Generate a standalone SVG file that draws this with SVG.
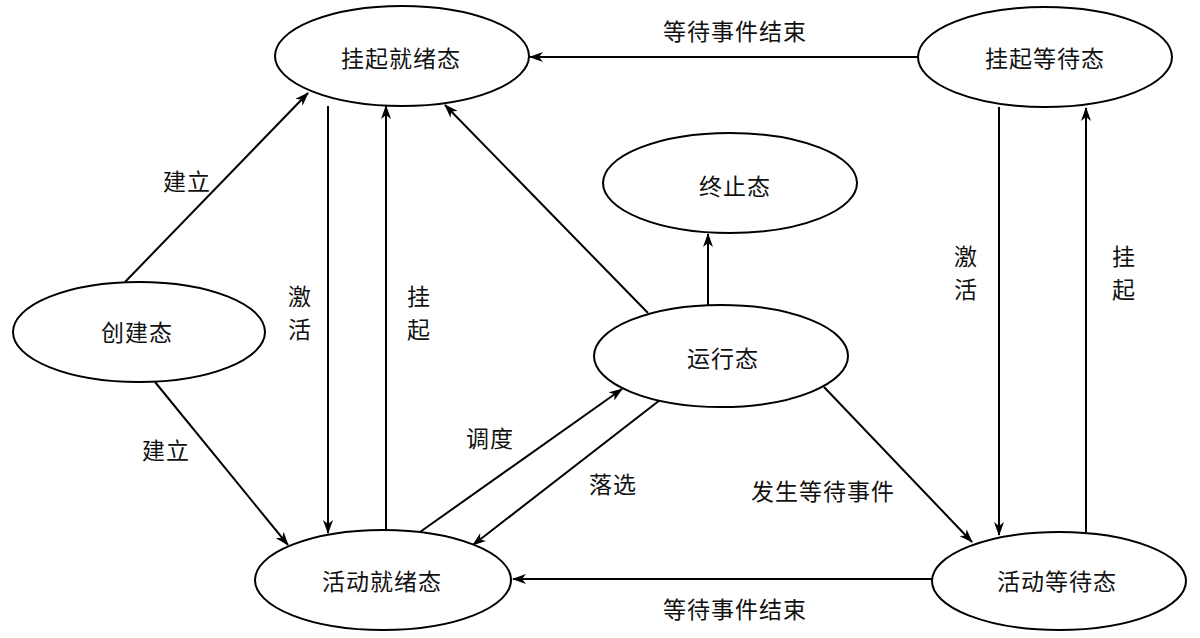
<svg xmlns="http://www.w3.org/2000/svg" width="1200" height="638" viewBox="0 0 1200 638">
<style>
.n{fill:#fff;stroke:#000;stroke-width:2}
.t{font-family:"Noto Sans CJK SC","Noto Sans",sans-serif;font-size:23px;letter-spacing:1px;fill:#111;text-anchor:middle;dominant-baseline:central}
.e{stroke:#000;stroke-width:2;fill:none;marker-end:url(#ah)}
</style>
<defs>
<marker id="ah" viewBox="0 0 14 10" refX="13" refY="5" markerWidth="14" markerHeight="10" markerUnits="userSpaceOnUse" orient="auto">
<path d="M0,0 L14,5 L0,10 L4,5 z" fill="#000"/>
</marker>
</defs>
<rect width="1200" height="638" fill="#fff"/>
<g id="connectors">
<line class="e" x1="918" y1="57" x2="530" y2="57"/>
<line class="e" x1="933" y1="579" x2="513" y2="579"/>
<line class="e" x1="125" y1="282" x2="308" y2="93"/>
<line class="e" x1="155" y1="382" x2="288" y2="545"/>
<line class="e" x1="328" y1="106" x2="328" y2="533"/>
<line class="e" x1="386" y1="530" x2="386" y2="106"/>
<line class="e" x1="648" y1="313" x2="445" y2="105"/>
<line class="e" x1="708" y1="305" x2="708" y2="234"/>
<line class="e" x1="420" y1="532" x2="622" y2="389"/>
<line class="e" x1="660" y1="400" x2="473" y2="545"/>
<line class="e" x1="824" y1="387" x2="972" y2="542"/>
<line class="e" x1="999" y1="107" x2="999" y2="535"/>
<line class="e" x1="1086" y1="532" x2="1086" y2="108"/>
<text class="t" x="735" y="30">等待事件结束</text>
<text class="t" x="735" y="608">等待事件结束</text>
<text class="t" x="187" y="180">建立</text>
<text class="t" x="166" y="449">建立</text>
<text class="t" x="300" y="295">激</text>
<text class="t" x="300" y="328">活</text>
<text class="t" x="419" y="295">挂</text>
<text class="t" x="419" y="328">起</text>
<text class="t" x="490" y="437">调度</text>
<text class="t" x="613" y="483">落选</text>
<text class="t" x="823" y="490">发生等待事件</text>
<text class="t" x="966" y="255">激</text>
<text class="t" x="966" y="288">活</text>
<text class="t" x="1124" y="255">挂</text>
<text class="t" x="1124" y="288">起</text>
</g>
<g id="n-guaqi-jiuxu"><ellipse class="n" cx="402" cy="56" rx="127" ry="50"/><text class="t" x="401" y="57">挂起就绪态</text></g>
<g id="n-guaqi-dengdai"><ellipse class="n" cx="1045" cy="57" rx="127" ry="50"/><text class="t" x="1045" y="57">挂起等待态</text></g>
<g id="n-zhongzhi"><ellipse class="n" cx="730" cy="183" rx="127" ry="50"/><text class="t" x="735" y="185">终止态</text></g>
<g id="n-chuangjian"><ellipse class="n" cx="139" cy="332" rx="126" ry="50"/><text class="t" x="137" y="331">创建态</text></g>
<g id="n-yunxing"><ellipse class="n" cx="721" cy="356" rx="127" ry="51"/><text class="t" x="723" y="357">运行态</text></g>
<g id="n-huodong-jiuxu"><ellipse class="n" cx="383" cy="580" rx="128" ry="50"/><text class="t" x="382" y="580">活动就绪态</text></g>
<g id="n-huodong-dengdai"><ellipse class="n" cx="1059" cy="581" rx="127" ry="49"/><text class="t" x="1057" y="580">活动等待态</text></g>
</svg>
